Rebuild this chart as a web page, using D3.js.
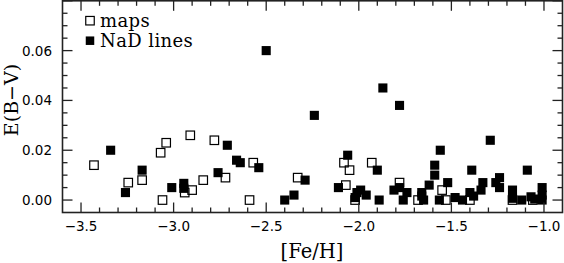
<!DOCTYPE html>
<html>
<head>
<meta charset="utf-8">
<script src="https://cdn.jsdelivr.net/npm/d3@7"></script>
<style>
  body { margin: 0; background: #fff; }
  .tick-label { font-family: "DejaVu Sans", sans-serif; font-size: 13.5px; fill: #000; }
  .serif { font-family: "DejaVu Serif", serif; fill: #000; }
</style>
</head>
<body>
<div class="chart"></div>
<script>
const WIDTH = 564;
const HEIGHT = 263;

// [Fe/H] and E(B-V) from extinction maps (open squares)
var mapsFe = [-3.43, -3.245, -3.17, -3.07, -3.04, -3.06, -2.91, -2.94, -2.90, -2.84,
    -2.78, -2.72, -2.57, -2.59, -2.33, -2.08, -2.05, -2.07, -2.02, -1.93,
    -1.78, -1.68, -1.55, -1.53, -1.40, -1.17, -1.06];
var mapsEbv = [0.014, 0.007, 0.008, 0.019, 0.023, 0.000, 0.026, 0.003, 0.004, 0.008,
    0.024, 0.009, 0.015, 0.000, 0.009, 0.015, 0.012, 0.006, 0.000, 0.015,
    0.007, 0.000, 0.004, 0.000, 0.000, 0.000, 0.000];

// [Fe/H] and E(B-V) from NaD lines (filled squares)
var nadFe = [-3.34, -3.26, -3.17, -3.01, -2.945, -2.945, -2.71, -2.66, -2.64, -2.54,
    -2.76, -2.50, -2.40, -2.35, -2.29, -2.24, -2.06, -2.11, -2.02, -2.01,
    -1.99, -1.96, -1.90, -1.89, -1.87, -1.81, -1.78, -1.78, -1.74, -1.76,
    -1.66, -1.66, -1.65, -1.62, -1.59, -1.59, -1.56, -1.565, -1.52, -1.48,
    -1.44, -1.40, -1.38, -1.39, -1.34, -1.33, -1.29, -1.26, -1.24, -1.24,
    -1.17, -1.17, -1.12, -1.09, -1.07, -1.05, -1.01, -1.01, -1.01];
var nadEbv = [0.020, 0.003, 0.012, 0.005, 0.0067, 0.0047, 0.022, 0.016, 0.015, 0.013,
    0.011, 0.060, 0.000, 0.002, 0.008, 0.034, 0.018, 0.005, 0.001, 0.003,
    0.004, 0.002, 0.012, 0.000, 0.045, 0.004, 0.038, 0.005, 0.003, 0.000,
    0.0016, 0.003, 0.000, 0.006, 0.014, 0.010, 0.020, 0.000, 0.007, 0.001,
    0.000, 0.003, 0.0016, 0.012, 0.004, 0.007, 0.024, 0.007, 0.009, 0.005,
    0.004, 0.0007, 0.000, 0.012, 0.0013, 0.0004, 0.005, 0.002, 0.000];

var xTicks = [-3.5, -3.0, -2.5, -2.0, -1.5, -1.0];
var yTicks = [0.00, 0.02, 0.04, 0.06];
var legendLabels = ['maps', 'NaD lines'];

var xScale = d3.scaleLinear().domain([-3.6, -0.9]).range([62.5, 562.5]);
var yScale = d3.scaleLinear().domain([-0.005, 0.08]).range([212.5, 0.8]);

var MARK = 8.5;

var svg = d3.select('.chart').append('svg')
    .attr('width', WIDTH)
    .attr('height', HEIGHT);

function drawFrame() {
    var x0 = xScale.range()[0], x1 = xScale.range()[1];
    var y0 = yScale.range()[0], y1 = yScale.range()[1];
    svg.append('rect')
        .attr('x', x0).attr('y', y1)
        .attr('width', x1 - x0).attr('height', y0 - y1)
        .attr('fill', 'none').attr('stroke', '#222').attr('stroke-width', 1.6);

    var g = svg.append('g').attr('stroke', '#222').attr('stroke-width', 1.3);
    var xMinor = d3.range(-3.5, -0.95, 0.1);
    var yMinor = d3.range(0, 0.0801, 0.005);
    function isMajorX(v) { return Math.abs(v * 2 - Math.round(v * 2)) < 1e-6; }
    function isMajorY(v) { return Math.abs(v * 50 - Math.round(v * 50)) < 1e-6; }

    xMinor.forEach(function (v) {
        var len = isMajorX(v) ? 10 : 5;
        var px = xScale(v);
        g.append('line').attr('x1', px).attr('x2', px).attr('y1', y0).attr('y2', y0 - len);
        g.append('line').attr('x1', px).attr('x2', px).attr('y1', y1).attr('y2', y1 + len);
    });
    yMinor.forEach(function (v) {
        var len = isMajorY(v) ? 10 : 5;
        var py = yScale(v);
        g.append('line').attr('x1', x0).attr('x2', x0 + len).attr('y1', py).attr('y2', py);
        g.append('line').attr('x1', x1).attr('x2', x1 - len).attr('y1', py).attr('y2', py);
    });
}

function drawLabels() {
    svg.selectAll('.xlab').data(xTicks).enter().append('text')
        .attr('class', 'tick-label')
        .attr('x', function (d) { return xScale(d); })
        .attr('y', 231)
        .attr('text-anchor', 'middle')
        .text(function (d) { return d3.format('.1f')(d).replace('-', '\u2212'); });

    svg.selectAll('.ylab').data(yTicks).enter().append('text')
        .attr('class', 'tick-label')
        .attr('x', 52)
        .attr('y', function (d) { return yScale(d) + 5; })
        .attr('text-anchor', 'end')
        .text(function (d) { return d3.format('.2f')(d); });

    svg.append('text').attr('class', 'serif')
        .attr('x', 312).attr('y', 258)
        .attr('text-anchor', 'middle')
        .style('font-size', '19.5px')
        .text('[Fe/H]');

    svg.append('text').attr('class', 'serif')
        .attr('transform', 'translate(18,100) rotate(-90)')
        .attr('text-anchor', 'middle')
        .style('font-size', '19px')
        .text('E(B\u2212V)');
}

function drawPoints() {
    var maps = mapsFe.map(function (f, i) { return [f, mapsEbv[i]]; });
    var nad = nadFe.map(function (f, i) { return [f, nadEbv[i]]; });

    svg.append('g').selectAll('rect').data(maps).enter().append('rect')
        .attr('x', function (d) { return xScale(d[0]) - MARK / 2; })
        .attr('y', function (d) { return yScale(d[1]) - MARK / 2; })
        .attr('width', MARK).attr('height', MARK)
        .attr('fill', 'none').attr('stroke', '#000').attr('stroke-width', 1.2);

    svg.append('g').selectAll('rect').data(nad).enter().append('rect')
        .attr('x', function (d) { return xScale(d[0]) - MARK / 2 - 0.3; })
        .attr('y', function (d) { return yScale(d[1]) - MARK / 2 - 0.3; })
        .attr('width', MARK + 0.6).attr('height', MARK + 0.6)
        .attr('fill', '#000');
}

function drawLegend() {
    var g = svg.append('g');
    legendLabels.forEach(function (name, i) {
        var cy = 20.7 + i * 20;
        var r = g.append('rect')
            .attr('x', 90 - MARK / 2).attr('y', cy - MARK / 2)
            .attr('width', MARK).attr('height', MARK);
        if (i === 0) r.attr('fill', 'none').attr('stroke', '#000').attr('stroke-width', 1.2);
        else r.attr('fill', '#000');
        g.append('text').attr('class', 'serif')
            .attr('x', 100).attr('y', cy + 6)
            .style('font-size', '18px')
            .style('letter-spacing', '0.4px')
            .text(name);
    });
}

drawPoints();
drawFrame();
drawLabels();
drawLegend();
</script>
</body>
</html>
